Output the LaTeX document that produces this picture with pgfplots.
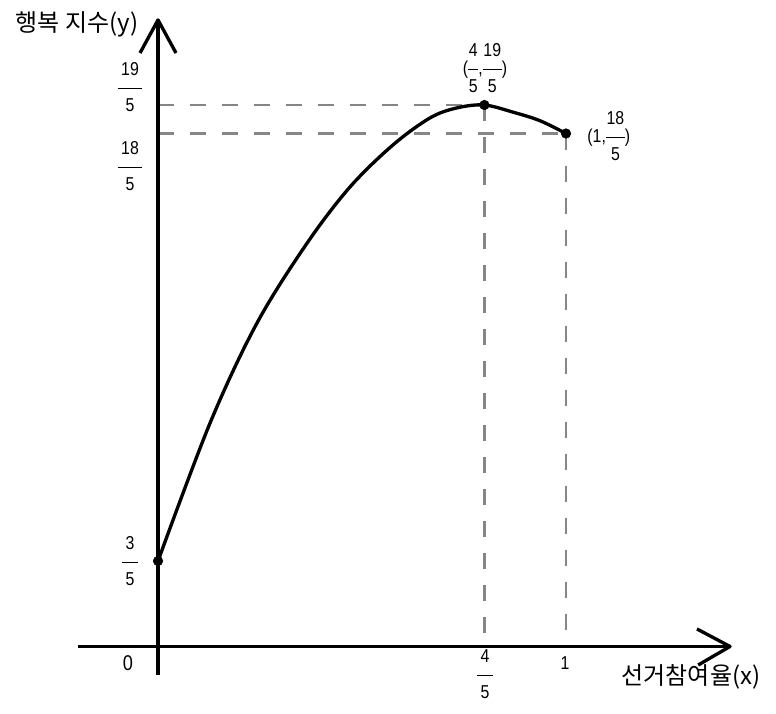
\documentclass[border=0pt]{standalone}
\usepackage{pgfplots}
\pgfplotsset{compat=1.18}
\usepackage{fontspec}
\setmainfont{Liberation Sans}
\newfontfamily\nar[FakeStretch=0.85]{Liberation Sans}
\newfontfamily\kr{Noto Sans CJK KR}
\newcommand\sz{\nar\fontsize{14}{16.8}\selectfont}
\newcommand\fr[2]{{\sz\begin{tabular}{@{\hspace{2.5pt}}c@{\hspace{2.5pt}}}#1\rule[-9.5pt]{0pt}{0pt}\\\hline\rule{0pt}{17.5pt}#2\end{tabular}}}
\newcommand\frn[2]{{\sz\begin{tabular}{@{\hspace{0.5pt}}c@{\hspace{0.5pt}}}#1\rule[-9.5pt]{0pt}{0pt}\\\hline\rule{0pt}{17.5pt}#2\end{tabular}}}
\begin{document}
\begin{tikzpicture}
\begin{axis}[
  width=582pt, height=535.5pt, scale only axis,
  xmin=-0.3873, xmax=1.5147, ymin=-0.4737, ymax=4.537,
  hide axis, clip=false,
]
\path (rel axis cs:0,0) rectangle (rel axis cs:1,1);
% dashed guide lines
\addplot[gray!95, line width=1.8pt, dash pattern=on 12pt off 12pt] coordinates {(0,3.8) (0.8,3.8)};
\addplot[gray!95, line width=1.8pt, dash pattern=on 12pt off 12pt] coordinates {(0,3.6) (1,3.6)};
\addplot[gray!95, line width=1.8pt, dash pattern=on 12pt off 12pt] coordinates {(0.8,3.8) (0.8,0)};
\addplot[gray!95, line width=1.8pt, dash pattern=on 12pt off 12pt] coordinates {(1,3.6) (1,0)};
% axes
\addplot[black, line width=2.5pt] coordinates {(-0.196,0) (1.402,0)};
\addplot[black, line width=2.5pt, line join=round] coordinates {(1.321,0.123) (1.402,0) (1.324,-0.130)};
\addplot[black, line width=2.5pt] coordinates {(0,-0.2) (0,4.397)};
\addplot[black, line width=2.5pt, line join=round] coordinates {(-0.0441,4.165) (0,4.397) (0.0441,4.165)};
% curve
\addplot[black, line width=2.5pt, smooth, tension=0.55] coordinates {
(0,0.6) (0.1275,1.568) (0.2426,2.27) (0.3652,2.83) (0.4706,3.225)
(0.576,3.52) (0.667,3.71) (0.733,3.78) (0.8,3.8) (0.87,3.75) (0.936,3.69) (1,3.6)};
% points
\addplot[only marks, mark=*, mark size=3.6pt, black] coordinates {(0,0.6) (0.8,3.8) (1,3.6)};
% labels
\node[font=\kr\fontsize{18}{20}\selectfont] at (axis cs:-0.1985,4.368) {행복 지수(y)};
\node[font=\kr\fontsize{18}{20}\selectfont] at (axis cs:1.3064,-0.214) {선거참여율(x)};
\node[font=\sz] at (axis cs:-0.0686,3.912) {\fr{19}{5}};
\node[font=\sz] at (axis cs:-0.0686,3.358) {\fr{18}{5}};
\node[font=\sz] at (axis cs:-0.0686,0.586) {\fr{3}{5}};
\node[font=\nar\fontsize{16}{19}\selectfont] at (axis cs:-0.0735,-0.1158) {0};
\node[font=\sz] at (axis cs:0.8015,-0.207) {\fr{4}{5}};
\node[font=\sz] at (axis cs:0.9975,-0.1158) {1};
\node[font=\sz, inner sep=0pt] at (axis cs:0.8015,4.046) {(\frn{4}{5},\frn{19}{5})};
\node[font=\sz, inner sep=0pt] at (axis cs:1.105,3.568) {(1,\frn{18}{5})};
\end{axis}
\end{tikzpicture}
\end{document}
